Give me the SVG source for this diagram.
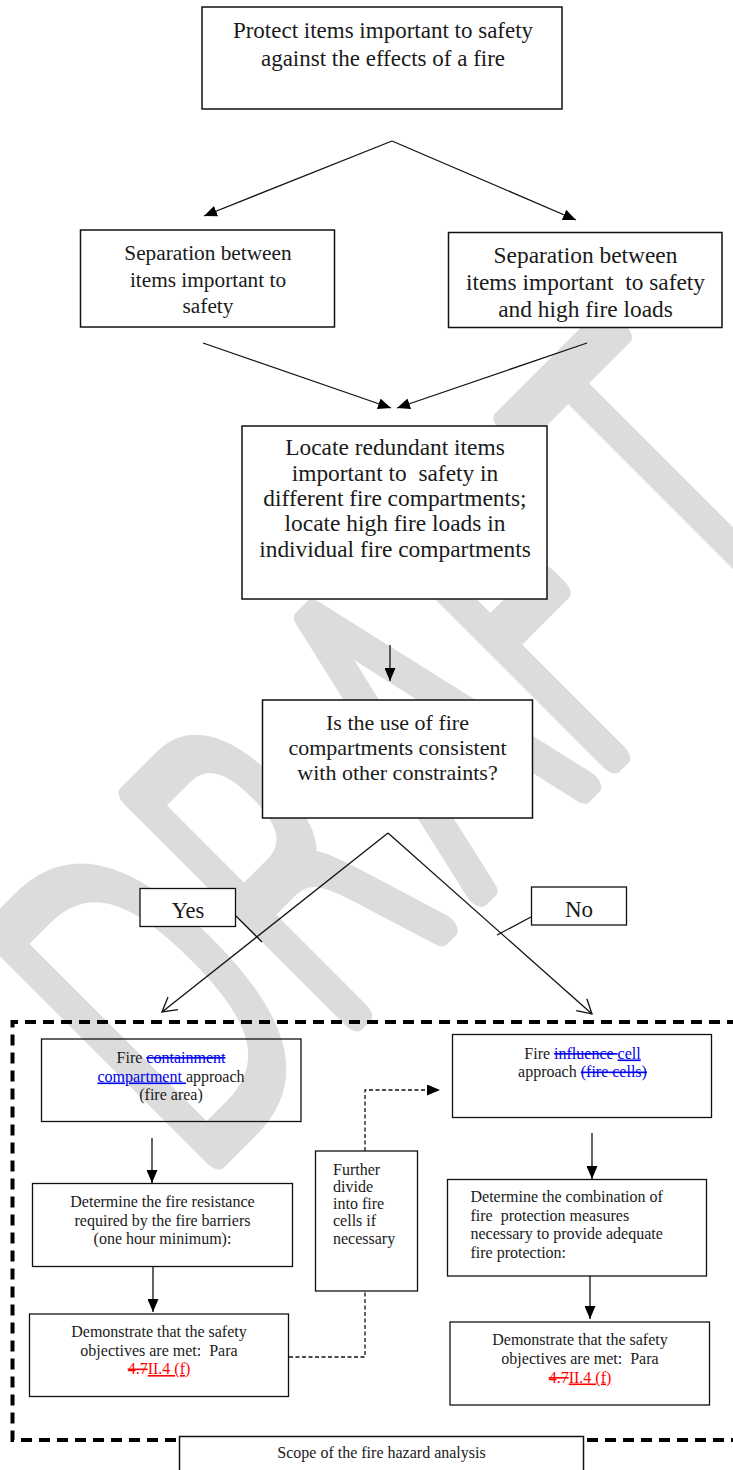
<svg xmlns="http://www.w3.org/2000/svg" width="733" height="1470" viewBox="0 0 733 1470">
<style>
  .bx{fill:#fff;stroke:#111;stroke-width:1.5}
  .wb{fill:#fff;stroke:#111;stroke-width:1.3}
  .sb{fill:none;stroke:#111;stroke-width:1.3}
  .t{font-family:"Liberation Serif","Times New Roman",serif;fill:#1a1a1a;text-anchor:middle}
  .tl{font-family:"Liberation Serif","Times New Roman",serif;fill:#1a1a1a;text-anchor:start}
  .ln{fill:none;stroke:#111;stroke-width:1.3}
  .dash{fill:none;stroke:#111;stroke-width:1.3;stroke-dasharray:4 2.5}
  .bord{fill:none;stroke:#000;stroke-width:4;stroke-dasharray:11 7}
  .blue{fill:#0000ee}
  .red{fill:#ff0000}
  .st{text-decoration:line-through}
  .ul{text-decoration:underline}
</style>
<defs>
  <marker id="arr" markerUnits="userSpaceOnUse" markerWidth="13" markerHeight="11" viewBox="0 0 13 11" refX="13" refY="5.5" orient="auto">
    <path d="M0,0 L13,5.5 L0,11 z" fill="#000"/>
  </marker>
  <marker id="open" markerUnits="userSpaceOnUse" markerWidth="16" markerHeight="18" viewBox="-1 -9 16 18" refX="14" refY="0" orient="auto">
    <path d="M0,-8 L14,0 L0,8" fill="none" stroke="#111" stroke-width="1.3"/>
  </marker>
  <clipPath id="clipR"><rect x="448" y="232" width="275" height="95"/></clipPath>
</defs>

<g id="watermark">
  <text transform="translate(203.8,1167.8) rotate(-45) scale(0.6,1)" x="-29.2 295.8 629.7 904.2 1222.7" y="0" font-family="DejaVu Sans" font-weight="200" font-size="430" fill="#dcdcdc" stroke="#dcdcdc" stroke-width="28" stroke-linejoin="round" stroke-linecap="round">DRAFT</text>
</g>

<g id="connectors">
  <line class="ln" x1="392" y1="141" x2="204" y2="216" marker-end="url(#arr)"/>
  <line class="ln" x1="392" y1="141" x2="576" y2="220" marker-end="url(#arr)"/>
  <line class="ln" x1="203" y1="343" x2="391" y2="408" marker-end="url(#arr)"/>
  <line class="ln" x1="587" y1="343" x2="397" y2="408" marker-end="url(#arr)"/>
  <line class="ln" x1="390" y1="645" x2="390" y2="681" marker-end="url(#arr)"/>
  <line class="ln" x1="388" y1="833" x2="162" y2="1012" marker-end="url(#open)"/>
  <line class="ln" x1="388" y1="833" x2="592" y2="1014" marker-end="url(#open)"/>
  <line class="ln" x1="236" y1="916" x2="262" y2="942"/>
  <line class="ln" x1="531" y1="917" x2="497" y2="935"/>
  <line class="ln" x1="152" y1="1138" x2="152" y2="1183" marker-end="url(#arr)"/>
  <line class="ln" x1="153" y1="1267" x2="153" y2="1312" marker-end="url(#arr)"/>
  <line class="ln" x1="592" y1="1133" x2="592" y2="1179" marker-end="url(#arr)"/>
  <line class="ln" x1="590" y1="1276" x2="590" y2="1319" marker-end="url(#arr)"/>
  <polyline class="dash" points="289,1357 365,1357 365,1291"/>
  <polyline class="dash" points="365,1151 365,1090 440,1090" marker-end="url(#arr)"/>
</g>

<g id="scope-border">
  <path class="bord" d="M176,1440 L12.5,1440 L12.5,1022 L740,1022"/>
  <path class="bord" d="M587,1440 L740,1440"/>
</g>

<g id="n-protect">
  <rect class="bx" x="202" y="7" width="360" height="102"/>
  <text class="t" font-size="23"><tspan x="383" y="38">Protect items important to safety</tspan><tspan x="383" y="66">against the effects of a fire</tspan></text>
</g>

<g id="n-sep1">
  <rect class="bx" x="80.5" y="230" width="254" height="97"/>
  <text class="t" font-size="21.3"><tspan x="208" y="260">Separation between</tspan><tspan x="208" y="287">items important to</tspan><tspan x="208" y="313">safety</tspan></text>
</g>

<g id="n-sep2">
  <rect class="bx" x="448.5" y="232.5" width="273.5" height="95"/>
  <text class="t" font-size="23.4" clip-path="url(#clipR)" xml:space="preserve"><tspan x="585.5" y="263">Separation between</tspan><tspan x="585.5" y="289.5">items important  to safety</tspan><tspan x="585.5" y="316.5">and high fire loads</tspan></text>
</g>

<g id="n-locate">
  <rect class="bx" x="242" y="426" width="305" height="173"/>
  <text class="t" font-size="23.4" xml:space="preserve"><tspan x="395" y="455">Locate redundant items</tspan><tspan x="395" y="480.5">important to  safety in</tspan><tspan x="395" y="506">different fire compartments;</tspan><tspan x="395" y="531">locate high fire loads in</tspan><tspan x="395" y="556.5">individual fire compartments</tspan></text>
</g>

<g id="n-question">
  <rect class="bx" x="262.5" y="700" width="270" height="118"/>
  <text class="t" font-size="22"><tspan x="397.5" y="730">Is the use of fire</tspan><tspan x="397.5" y="755">compartments consistent</tspan><tspan x="397.5" y="780">with other constraints?</tspan></text>
</g>

<g id="n-yes">
  <rect class="wb" x="140" y="888.5" width="95.5" height="38"/>
  <text class="t" font-size="22.5" x="188" y="918">Yes</text>
</g>

<g id="n-no">
  <rect class="wb" x="531.5" y="887" width="95" height="38"/>
  <text class="t" font-size="23" x="579" y="917">No</text>
</g>

<g id="n-compartment">
  <rect class="sb" x="41.5" y="1039" width="259.5" height="82.5"/>
  <text class="t" font-size="16" xml:space="preserve"><tspan x="171" y="1062.5">Fire <tspan class="blue st">containment</tspan></tspan><tspan x="171" y="1081.5"><tspan class="blue ul">compartment </tspan>approach</tspan><tspan x="171" y="1100">(fire area)</tspan></text>
</g>

<g id="n-resistance">
  <rect class="sb" x="32.5" y="1183.5" width="260" height="83"/>
  <text class="t" font-size="16"><tspan x="162.5" y="1206.5">Determine the fire resistance</tspan><tspan x="162.5" y="1225.5">required by the fire barriers</tspan><tspan x="162.5" y="1244">(one hour minimum):</tspan></text>
</g>

<g id="n-demo1">
  <rect class="sb" x="29.5" y="1314" width="259" height="82.5"/>
  <text class="t" font-size="16" xml:space="preserve"><tspan x="159" y="1336.5">Demonstrate that the safety</tspan><tspan x="159" y="1355.5">objectives are met:  Para</tspan><tspan x="159" y="1374"><tspan class="red st">4.7</tspan><tspan class="red ul">II.4 (f)</tspan></tspan></text>
</g>

<g id="n-further">
  <rect class="sb" x="315.5" y="1151" width="102" height="140"/>
  <text class="tl" font-size="16"><tspan x="333" y="1175">Further</tspan><tspan x="333" y="1192">divide</tspan><tspan x="333" y="1209">into fire</tspan><tspan x="333" y="1226">cells if</tspan><tspan x="333" y="1244">necessary</tspan></text>
</g>

<g id="n-cell">
  <rect class="sb" x="452.5" y="1034.5" width="259" height="83"/>
  <text class="t" font-size="16" xml:space="preserve"><tspan x="582.5" y="1058.5">Fire <tspan class="blue st">influence </tspan><tspan class="blue ul">cell</tspan></tspan><tspan x="582.5" y="1077">approach <tspan class="blue st">(fire cells)</tspan></tspan></text>
</g>

<g id="n-combination">
  <rect class="sb" x="447.5" y="1179.5" width="259" height="96.5"/>
  <text class="tl" font-size="16" xml:space="preserve"><tspan x="470.5" y="1202">Determine the combination of</tspan><tspan x="470.5" y="1220.5">fire  protection measures</tspan><tspan x="470.5" y="1239">necessary to provide adequate</tspan><tspan x="470.5" y="1257.5">fire protection:</tspan></text>
</g>

<g id="n-demo2">
  <rect class="sb" x="450" y="1322" width="259.5" height="83"/>
  <text class="t" font-size="16" xml:space="preserve"><tspan x="580" y="1345">Demonstrate that the safety</tspan><tspan x="580" y="1363.5">objectives are met:  Para</tspan><tspan x="580" y="1382.5"><tspan class="red st">4.7</tspan><tspan class="red ul">II.4 (f)</tspan></tspan></text>
</g>

<g id="n-scope">
  <rect class="bx" x="179.5" y="1436.5" width="404" height="50"/>
  <text class="t" font-size="16" x="381.5" y="1457.5">Scope of the fire hazard analysis</text>
</g>
</svg>
